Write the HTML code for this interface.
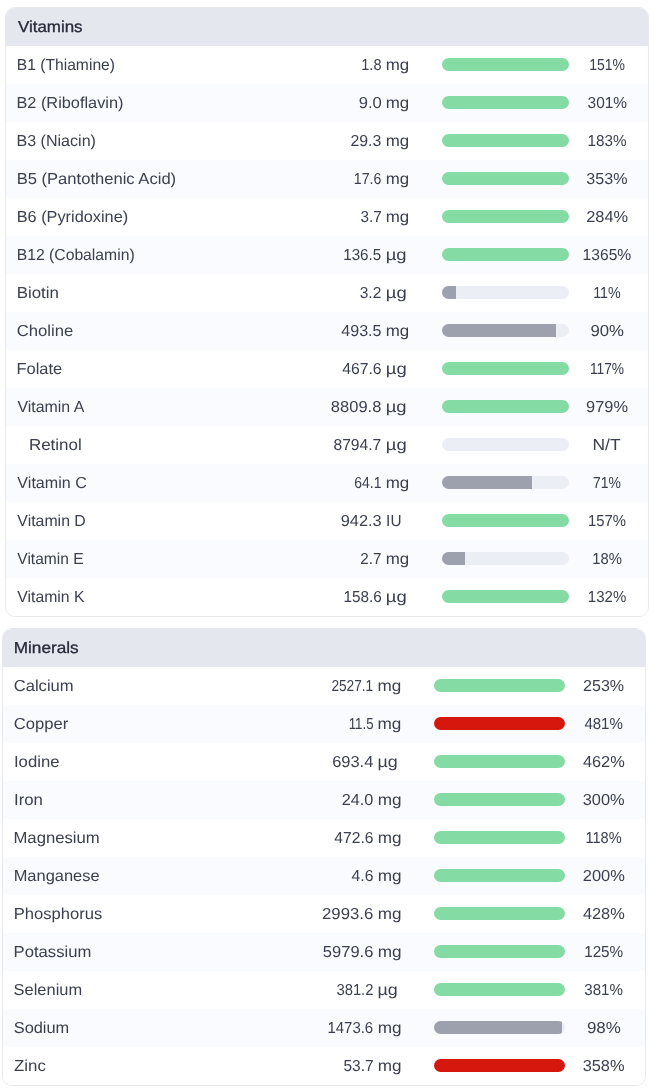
<!DOCTYPE html>
<html lang="en"><head><meta charset="utf-8"><title>Nutrients</title>
<style>
html,body{margin:0;padding:0;background:#fff;}
body{text-rendering:geometricPrecision;width:654px;height:1088px;position:relative;overflow:hidden;font-family:"Liberation Sans",sans-serif;font-size:15px;color:#3b4051;}
.card{will-change:transform;position:absolute;width:644px;box-sizing:border-box;border:1px solid #e7e9ee;border-radius:10px;overflow:hidden;background:#fff;}
.c1{left:5px;top:7px;}
.c2{left:2px;top:628px;}
.hd{height:38px;line-height:38px;background:#e4e7ee;position:relative;color:#262a3a;-webkit-text-stroke:0.3px #262a3a;}
.row{height:38px;line-height:38px;position:relative;background:#fff;}
.row.alt{background:#fafbfe;}
.t{position:absolute;top:1.2px;height:38px;white-space:nowrap;transform-origin:0 50%;display:block;}
.b{position:absolute;left:436px;width:127px;height:13px;top:12px;border-radius:7px;background:#eceef6;overflow:hidden;display:block;}
.b i{display:block;height:100%;}
.g{background:#84dba3;}
.r{background:#d6170d;}
.y{background:#9da1ae;}
.c2 .b{left:431px;width:131px;}

</style></head><body>
<div class="card c1"><div class="hd"><span class="t" style="left:11px;transform:translateX(0.96px) scale(1.1289,1.06)">Vitamins</span></div>
<div class="row"><span class="t" style="left:10px;transform:translateX(0.74px) scale(1.0430,1.06)">B1 (Thiamine)</span><span class="t" style="left:355px;transform:translateX(0.27px) scale(0.9679,1.06)">1.8</span><span class="t" style="left:379px;transform:translateX(0.79px) scale(1.1266,1.06)">mg</span><span class="b"><i class="g" style="width:100%"></i></span><span class="t" style="left:583px;transform:translateX(0.18px) scale(0.9322,1.06)">151%</span></div>
<div class="row alt"><span class="t" style="left:10px;transform:translateX(0.44px) scale(1.0876,1.06)">B2 (Riboflavin)</span><span class="t" style="left:352px;transform:translateX(0.68px) scale(1.1059,1.06)">9.0</span><span class="t" style="left:379px;transform:translateX(0.78px) scale(1.1268,1.06)">mg</span><span class="b"><i class="g" style="width:100%"></i></span><span class="t" style="left:581px;transform:translateX(0.58px) scale(1.0281,1.06)">301%</span></div>
<div class="row"><span class="t" style="left:10px;transform:translateX(0.45px) scale(1.0713,1.06)">B3 (Niacin)</span><span class="t" style="left:344px;transform:translateX(0.41px) scale(1.0575,1.06)">29.3</span><span class="t" style="left:379px;transform:translateX(0.79px) scale(1.1266,1.06)">mg</span><span class="b"><i class="g" style="width:100%"></i></span><span class="t" style="left:581px;transform:translateX(0.57px) scale(1.0160,1.06)">183%</span></div>
<div class="row alt"><span class="t" style="left:10px;transform:translateX(0.64px) scale(1.1057,1.06)">B5 (Pantothenic Acid)</span><span class="t" style="left:347px;transform:translateX(0.87px) scale(0.9410,1.06)">17.6</span><span class="t" style="left:379px;transform:translateX(0.69px) scale(1.1218,1.06)">mg</span><span class="b"><i class="g" style="width:100%"></i></span><span class="t" style="left:580px;transform:translateX(0.36px) scale(1.0716,1.06)">353%</span></div>
<div class="row"><span class="t" style="left:10px;transform:translateX(0.67px) scale(1.0874,1.06)">B6 (Pyridoxine)</span><span class="t" style="left:354px;transform:translateX(0.51px) scale(1.0170,1.06)">3.7</span><span class="t" style="left:379px;transform:translateX(0.79px) scale(1.1266,1.06)">mg</span><span class="b"><i class="g" style="width:100%"></i></span><span class="t" style="left:580px;transform:translateX(0.15px) scale(1.0928,1.06)">284%</span></div>
<div class="row alt"><span class="t" style="left:10px;transform:translateX(0.74px) scale(1.0474,1.06)">B12 (Cobalamin)</span><span class="t" style="left:337px;transform:translateX(0.18px) scale(1.0150,1.06)">136.5</span><span class="t" style="left:379px;transform:translateX(0.67px) scale(1.2311,1.06)">µg</span><span class="b"><i class="g" style="width:100%"></i></span><span class="t" style="left:576px;transform:translateX(0.61px) scale(1.0397,1.06)">1365%</span></div>
<div class="row"><span class="t" style="left:10px;transform:translateX(0.64px) scale(1.1270,1.06)">Biotin</span><span class="t" style="left:353px;transform:translateX(0.76px) scale(1.0320,1.06)">3.2</span><span class="t" style="left:379px;transform:translateX(0.74px) scale(1.2309,1.06)">µg</span><span class="b"><i class="y" style="width:11%"></i></span><span class="t" style="left:587px;transform:translateX(0.17px) scale(0.9539,1.06)">11%</span></div>
<div class="row alt"><span class="t" style="left:10px;transform:translateX(0.67px) scale(1.1104,1.06)">Choline</span><span class="t" style="left:335px;transform:translateX(0.30px) scale(1.0710,1.06)">493.5</span><span class="t" style="left:379px;transform:translateX(0.78px) scale(1.1268,1.06)">mg</span><span class="b"><i class="y" style="width:90%"></i></span><span class="t" style="left:584px;transform:translateX(0.47px) scale(1.1172,1.06)">90%</span></div>
<div class="row"><span class="t" style="left:10px;transform:translateX(0.52px) scale(1.0958,1.06)">Folate</span><span class="t" style="left:336px;transform:translateX(0.21px) scale(1.0503,1.06)">467.6</span><span class="t" style="left:379px;transform:translateX(0.74px) scale(1.2309,1.06)">µg</span><span class="b"><i class="g" style="width:100%"></i></span><span class="t" style="left:583px;transform:translateX(0.89px) scale(0.9188,1.06)">117%</span></div>
<div class="row alt"><span class="t" style="left:11px;transform:translateX(0.40px) scale(1.0615,1.06)">Vitamin A</span><span class="t" style="left:324px;transform:translateX(0.86px) scale(1.1009,1.06)">8809.8</span><span class="t" style="left:379px;transform:translateX(0.67px) scale(1.2311,1.06)">µg</span><span class="b"><i class="g" style="width:100%"></i></span><span class="t" style="left:580px;transform:translateX(0.11px) scale(1.0912,1.06)">979%</span></div>
<div class="row"><span class="t" style="left:22px;transform:translateX(0.89px) scale(1.1303,1.06)">Retinol</span><span class="t" style="left:327px;transform:translateX(0.45px) scale(1.0423,1.06)">8794.7</span><span class="t" style="left:379px;transform:translateX(0.74px) scale(1.2309,1.06)">µg</span><span class="b"><i class="y" style="width:0%"></i></span><span class="t" style="left:586px;transform:translateX(0.54px) scale(1.1581,1.06)">N/T</span></div>
<div class="row alt"><span class="t" style="left:11px;transform:translateX(0.36px) scale(1.0727,1.06)">Vitamin C</span><span class="t" style="left:348px;transform:translateX(0.33px) scale(0.9297,1.06)">64.1</span><span class="t" style="left:379px;transform:translateX(0.66px) scale(1.1281,1.06)">mg</span><span class="b"><i class="y" style="width:71%"></i></span><span class="t" style="left:587px;transform:translateX(0.01px) scale(0.9282,1.06)">71%</span></div>
<div class="row"><span class="t" style="left:11px;transform:translateX(0.37px) scale(1.0570,1.06)">Vitamin D</span><span class="t" style="left:334px;transform:translateX(0.72px) scale(1.0906,1.06)">942.3</span><span class="t" style="left:380px;transform:translateX(0.12px) scale(1.0227,1.06)">IU</span><span class="b"><i class="g" style="width:100%"></i></span><span class="t" style="left:581px;transform:translateX(0.97px) scale(0.9906,1.06)">157%</span></div>
<div class="row alt"><span class="t" style="left:11px;transform:translateX(0.31px) scale(1.0380,1.06)">Vitamin E</span><span class="t" style="left:354px;transform:translateX(0.29px) scale(1.0094,1.06)">2.7</span><span class="t" style="left:379px;transform:translateX(0.78px) scale(1.1268,1.06)">mg</span><span class="b"><i class="y" style="width:18%"></i></span><span class="t" style="left:586px;transform:translateX(0.36px) scale(0.9894,1.06)">18%</span></div>
<div class="row"><span class="t" style="left:11px;transform:translateX(0.27px) scale(1.0510,1.06)">Vitamin K</span><span class="t" style="left:337px;transform:translateX(0.42px) scale(1.0212,1.06)">158.6</span><span class="t" style="left:379px;transform:translateX(0.74px) scale(1.2309,1.06)">µg</span><span class="b"><i class="g" style="width:100%"></i></span><span class="t" style="left:581px;transform:translateX(0.85px) scale(1.0002,1.06)">132%</span></div>
</div>
<div class="card c2"><div class="hd"><span class="t" style="left:10px;transform:translateX(0.70px) scale(1.1465,1.06)">Minerals</span></div>
<div class="row"><span class="t" style="left:10px;transform:translateX(0.68px) scale(1.1070,1.06)">Calcium</span><span class="t" style="left:328px;transform:translateX(0.41px) scale(0.9106,1.06)">2527.1</span><span class="t" style="left:374px;transform:translateX(0.48px) scale(1.1428,1.06)">mg</span><span class="b"><i class="g" style="width:100%"></i></span><span class="t" style="left:580px;transform:translateX(0.01px) scale(1.0712,1.06)">253%</span></div>
<div class="row alt"><span class="t" style="left:10px;transform:translateX(0.72px) scale(1.1070,1.06)">Copper</span><span class="t" style="left:345px;transform:translateX(0.71px) scale(0.8827,1.06)">11.5</span><span class="t" style="left:374px;transform:translateX(0.48px) scale(1.1464,1.06)">mg</span><span class="b"><i class="r" style="width:100%"></i></span><span class="t" style="left:581px;transform:translateX(0.39px) scale(1.0030,1.06)">481%</span></div>
<div class="row"><span class="t" style="left:10px;transform:translateX(0.98px) scale(1.1135,1.06)">Iodine</span><span class="t" style="left:329px;transform:translateX(0.13px) scale(1.0981,1.06)">693.4</span><span class="t" style="left:374px;transform:translateX(0.53px) scale(1.1933,1.06)">µg</span><span class="b"><i class="g" style="width:100%"></i></span><span class="t" style="left:579px;transform:translateX(0.93px) scale(1.0895,1.06)">462%</span></div>
<div class="row alt"><span class="t" style="left:10px;transform:translateX(0.99px) scale(1.1163,1.06)">Iron</span><span class="t" style="left:338px;transform:translateX(0.69px) scale(1.0814,1.06)">24.0</span><span class="t" style="left:374px;transform:translateX(0.73px) scale(1.1463,1.06)">mg</span><span class="b"><i class="g" style="width:100%"></i></span><span class="t" style="left:579px;transform:translateX(0.66px) scale(1.0921,1.06)">300%</span></div>
<div class="row"><span class="t" style="left:10px;transform:translateX(0.44px) scale(1.1134,1.06)">Magnesium</span><span class="t" style="left:331px;transform:translateX(0.30px) scale(1.0438,1.06)">472.6</span><span class="t" style="left:374px;transform:translateX(0.74px) scale(1.1428,1.06)">mg</span><span class="b"><i class="g" style="width:100%"></i></span><span class="t" style="left:582px;transform:translateX(0.44px) scale(0.9750,1.06)">118%</span></div>
<div class="row alt"><span class="t" style="left:10px;transform:translateX(0.65px) scale(1.0967,1.06)">Manganese</span><span class="t" style="left:348px;transform:translateX(0.62px) scale(1.0479,1.06)">4.6</span><span class="t" style="left:374px;transform:translateX(0.73px) scale(1.1463,1.06)">mg</span><span class="b"><i class="g" style="width:100%"></i></span><span class="t" style="left:579px;transform:translateX(0.75px) scale(1.0961,1.06)">200%</span></div>
<div class="row"><span class="t" style="left:10px;transform:translateX(0.73px) scale(1.1059,1.06)">Phosphorus</span><span class="t" style="left:318px;transform:translateX(1.00px) scale(1.1166,1.06)">2993.6</span><span class="t" style="left:374px;transform:translateX(0.74px) scale(1.1428,1.06)">mg</span><span class="b"><i class="g" style="width:100%"></i></span><span class="t" style="left:579px;transform:translateX(0.93px) scale(1.0895,1.06)">428%</span></div>
<div class="row alt"><span class="t" style="left:10px;transform:translateX(0.61px) scale(1.1100,1.06)">Potassium</span><span class="t" style="left:319px;transform:translateX(0.87px) scale(1.0993,1.06)">5979.6</span><span class="t" style="left:374px;transform:translateX(0.73px) scale(1.1463,1.06)">mg</span><span class="b"><i class="g" style="width:100%"></i></span><span class="t" style="left:581px;transform:translateX(0.14px) scale(1.0172,1.06)">125%</span></div>
<div class="row"><span class="t" style="left:10px;transform:translateX(0.62px) scale(1.0956,1.06)">Selenium</span><span class="t" style="left:333px;transform:translateX(0.41px) scale(0.9870,1.06)">381.2</span><span class="t" style="left:374px;transform:translateX(0.53px) scale(1.1933,1.06)">µg</span><span class="b"><i class="g" style="width:100%"></i></span><span class="t" style="left:581px;transform:translateX(0.25px) scale(1.0068,1.06)">381%</span></div>
<div class="row alt"><span class="t" style="left:10px;transform:translateX(0.70px) scale(1.0926,1.06)">Sodium</span><span class="t" style="left:324px;transform:translateX(0.39px) scale(0.9985,1.06)">1473.6</span><span class="t" style="left:374px;transform:translateX(0.73px) scale(1.1463,1.06)">mg</span><span class="b"><i class="y" style="width:98%"></i></span><span class="t" style="left:583px;transform:translateX(0.89px) scale(1.1281,1.06)">98%</span></div>
<div class="row"><span class="t" style="left:11px;transform:translateX(0.03px) scale(1.1232,1.06)">Zinc</span><span class="t" style="left:340px;transform:translateX(0.45px) scale(1.0305,1.06)">53.7</span><span class="t" style="left:374px;transform:translateX(0.74px) scale(1.1428,1.06)">mg</span><span class="b"><i class="r" style="width:100%"></i></span><span class="t" style="left:579px;transform:translateX(0.65px) scale(1.0920,1.06)">358%</span></div>
</div>
</body></html>
